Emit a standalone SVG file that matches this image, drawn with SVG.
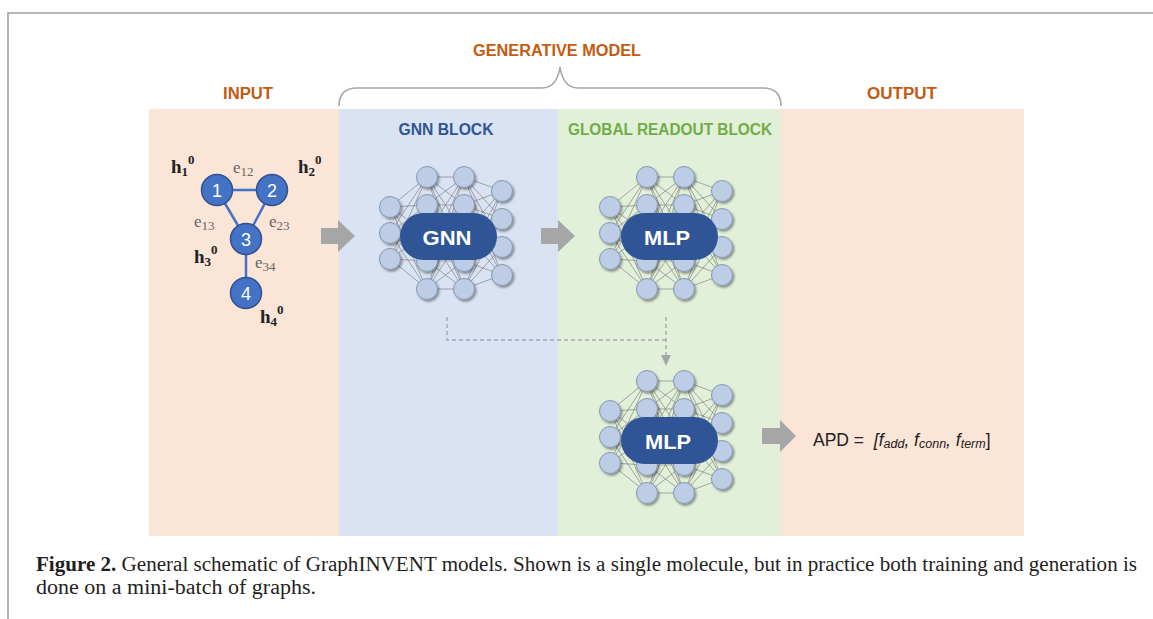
<svg xmlns="http://www.w3.org/2000/svg" xmlns:xlink="http://www.w3.org/1999/xlink" width="1153" height="619" viewBox="0 0 1153 619">
<style>
.hd{font-family:"Liberation Sans",Arial,sans-serif;font-weight:bold;font-size:16px;text-anchor:middle}
.or{fill:#C55A11}
.mol{fill:#4472C4;stroke:#2F528F;stroke-width:1.5}
.moltxt{font-family:"Liberation Sans",Arial,sans-serif;font-size:18px;fill:#fff;text-anchor:middle}
.h{font-family:"Liberation Serif","Times New Roman",serif;font-weight:bold;font-size:19px;fill:#222}
.e{font-family:"Liberation Serif","Times New Roman",serif;font-size:17px;fill:#666}
.s{font-size:13px}
.nn{fill:#BDCDE6;stroke:#8797B0;stroke-width:1}
.nl{fill:none;stroke:#7F7F7F;stroke-width:0.8;stroke-opacity:0.85}
.pill{fill:#2F5597}
.pt{font-family:"Liberation Sans",Arial,sans-serif;font-weight:bold;font-size:20px;fill:#fff;text-anchor:middle}
.arr{fill:#A6A6A6}
.dash{fill:none;stroke:#A6A6A6;stroke-width:1.4;stroke-dasharray:4 3}
.cap{font-family:"Liberation Serif","Times New Roman",serif;font-size:20px;fill:#231F20}
.apd{font-family:"Liberation Sans",Arial,sans-serif;font-size:17.5px;fill:#222}
</style>
<defs>
<filter id="sh" x="-30%" y="-30%" width="170%" height="170%">
<feDropShadow dx="1.5" dy="1.8" stdDeviation="1.1" flood-color="#000" flood-opacity="0.4"/>
</filter>
<g id="net">
<path class="nl" d="M0,-26L37,-56M0,-26L37,-28M0,-26L37,0M0,-26L37,28M0,-26L37,56M0,0L37,-56M0,0L37,-28M0,0L37,0M0,0L37,28M0,0L37,56M0,26L37,-56M0,26L37,-28M0,26L37,0M0,26L37,28M0,26L37,56M37,-56L74,-56M37,-56L74,-28M37,-56L74,0M37,-56L74,28M37,-56L74,56M37,-28L74,-56M37,-28L74,-28M37,-28L74,0M37,-28L74,28M37,-28L74,56M37,0L74,-56M37,0L74,-28M37,0L74,0M37,0L74,28M37,0L74,56M37,28L74,-56M37,28L74,-28M37,28L74,0M37,28L74,28M37,28L74,56M37,56L74,-56M37,56L74,-28M37,56L74,0M37,56L74,28M37,56L74,56M74,-56L112,-42M74,-56L112,-14M74,-56L112,14M74,-56L112,42M74,-28L112,-42M74,-28L112,-14M74,-28L112,14M74,-28L112,42M74,0L112,-42M74,0L112,-14M74,0L112,14M74,0L112,42M74,28L112,-42M74,28L112,-14M74,28L112,14M74,28L112,42M74,56L112,-42M74,56L112,-14M74,56L112,14M74,56L112,42"/>
<g filter="url(#sh)">
<circle class="nn" cx="0" cy="-26" r="10.5"/><circle class="nn" cx="0" cy="0" r="10.5"/><circle class="nn" cx="0" cy="26" r="10.5"/>
<circle class="nn" cx="37" cy="-56" r="10.5"/><circle class="nn" cx="37" cy="-28" r="10.5"/><circle class="nn" cx="37" cy="0" r="10.5"/><circle class="nn" cx="37" cy="28" r="10.5"/><circle class="nn" cx="37" cy="56" r="10.5"/>
<circle class="nn" cx="74" cy="-56" r="10.5"/><circle class="nn" cx="74" cy="-28" r="10.5"/><circle class="nn" cx="74" cy="0" r="10.5"/><circle class="nn" cx="74" cy="28" r="10.5"/><circle class="nn" cx="74" cy="56" r="10.5"/>
<circle class="nn" cx="112" cy="-42" r="10.5"/><circle class="nn" cx="112" cy="-14" r="10.5"/><circle class="nn" cx="112" cy="14" r="10.5"/><circle class="nn" cx="112" cy="42" r="10.5"/>
</g>
</g>
</defs>

<g id="frame">
<path d="M8,619V13H1153" fill="none" stroke="#A0A0A0" stroke-width="1.6"/>
</g>

<g id="panels">
<rect id="panel-input" x="149" y="109" width="190" height="427" fill="#FBE5D6"/>
<rect id="panel-gnn" x="339" y="109" width="219" height="427" fill="#DAE3F3"/>
<rect id="panel-readout" x="558" y="109" width="223" height="427" fill="#E2F0D9"/>
<rect id="panel-output" x="781" y="109" width="243" height="427" fill="#FBE5D6"/>
</g>

<g id="headings">
<text id="t-generative" class="hd or" x="557" y="56" textLength="168" lengthAdjust="spacingAndGlyphs">GENERATIVE MODEL</text>
<path id="brace" d="M339,106C339,94 345,88 357,88L542,88C553,88 558,80 560,67C562,80 567,88 578,88L763,88C775,88 781,94 781,106" fill="none" stroke="#A6A6A6" stroke-width="1.6"/>
<text id="t-input" class="hd or" x="248" y="99" textLength="50" lengthAdjust="spacingAndGlyphs">INPUT</text>
<text id="t-output" class="hd or" x="902" y="99" textLength="70" lengthAdjust="spacingAndGlyphs">OUTPUT</text>
<text id="t-gnnblock" class="hd" x="446" y="135" fill="#2F5597" textLength="95" lengthAdjust="spacingAndGlyphs">GNN BLOCK</text>
<text id="t-readout" class="hd" x="670" y="135" fill="#70AD47" textLength="204" lengthAdjust="spacingAndGlyphs">GLOBAL READOUT BLOCK</text>
</g>

<g id="connectors">
<g id="mol-edges" stroke="#4472C4" stroke-width="2.5">
<line x1="217" y1="190" x2="272" y2="190"/>
<line x1="217" y1="190" x2="246" y2="239"/>
<line x1="272" y1="190" x2="246" y2="239"/>
<line x1="246" y1="239" x2="246" y2="293"/>
</g>
<polygon id="arrow-1" class="arr" points="321,228 338,228 338,220 355,236 338,252 338,244 321,244"/>
<polygon id="arrow-2" class="arr" points="541,228 558,228 558,220 575,236 558,252 558,244 541,244"/>
<polygon id="arrow-3" class="arr" points="762,428 780,428 780,420 796,436 780,452 780,444 762,444"/>
<path id="dash-gnn" class="dash" d="M447,317V340H666"/>
<path id="dash-mlp" class="dash" d="M666,317V356"/>
<polygon class="arr" points="661,355 671,355 666,366"/>
</g>

<g id="molecule">
<g id="atom-1"><circle class="mol" cx="217" cy="190" r="15.5"/><text class="moltxt" x="217" y="196.5">1</text></g>
<g id="atom-2"><circle class="mol" cx="272" cy="190" r="15.5"/><text class="moltxt" x="272" y="196.5">2</text></g>
<g id="atom-3"><circle class="mol" cx="246" cy="239" r="15.5"/><text class="moltxt" x="246" y="245.5">3</text></g>
<g id="atom-4"><circle class="mol" cx="246" cy="293" r="15.5"/><text class="moltxt" x="246" y="299.5">4</text></g>
<text class="h" x="171" y="173">h<tspan class="s" dy="3">1</tspan><tspan class="s" dy="-12">0</tspan></text>
<text class="h" x="298" y="173">h<tspan class="s" dy="3">2</tspan><tspan class="s" dy="-12">0</tspan></text>
<text class="h" x="194" y="263">h<tspan class="s" dy="3">3</tspan><tspan class="s" dy="-12">0</tspan></text>
<text class="h" x="260" y="323">h<tspan class="s" dy="3">4</tspan><tspan class="s" dy="-12">0</tspan></text>
<text class="e" x="233" y="173">e<tspan class="s" dy="3">12</tspan></text>
<text class="e" x="194" y="227">e<tspan class="s" dy="3">13</tspan></text>
<text class="e" x="269" y="227">e<tspan class="s" dy="3">23</tspan></text>
<text class="e" x="255" y="268">e<tspan class="s" dy="3">34</tspan></text>
</g>

<g id="gnn">
<use xlink:href="#net" href="#net" transform="translate(390,233)"/>
<rect class="pill" x="400" y="213" width="97" height="47" rx="23.5"/>
<text class="pt" x="447" y="245" textLength="49" lengthAdjust="spacingAndGlyphs">GNN</text>
</g>

<g id="mlp-top">
<use xlink:href="#net" href="#net" transform="translate(610,233)"/>
<rect class="pill" x="621" y="213" width="97" height="47" rx="23.5"/>
<text class="pt" x="667" y="245" textLength="46" lengthAdjust="spacingAndGlyphs">MLP</text>
</g>

<g id="mlp-bottom">
<use xlink:href="#net" href="#net" transform="translate(610,437)"/>
<rect class="pill" x="621" y="417" width="97" height="47" rx="23.5"/>
<text class="pt" x="668" y="449" textLength="46" lengthAdjust="spacingAndGlyphs">MLP</text>
</g>

<g id="apd">
<text class="apd" x="813" y="446" xml:space="preserve">APD =  <tspan font-style="italic">[f</tspan><tspan font-style="italic" font-size="12.5" dy="2">add</tspan><tspan font-style="italic" dy="-2">, f</tspan><tspan font-style="italic" font-size="12.5" dy="2">conn</tspan><tspan font-style="italic" dy="-2">, f</tspan><tspan font-style="italic" font-size="12.5" dy="2">term</tspan><tspan dy="-2">]</tspan></text>
</g>

<g id="caption">
<text class="cap" x="36" y="571" textLength="1101" lengthAdjust="spacingAndGlyphs"><tspan font-weight="bold">Figure 2.</tspan> General schematic of GraphINVENT models. Shown is a single molecule, but in practice both training and generation is</text>
<text class="cap" x="36" y="594" textLength="280" lengthAdjust="spacingAndGlyphs">done on a mini-batch of graphs.</text>
</g>
</svg>
